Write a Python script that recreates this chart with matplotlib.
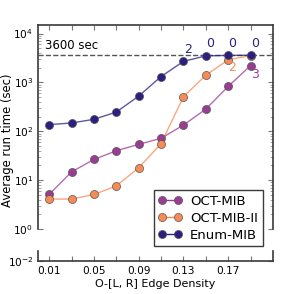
import matplotlib
matplotlib.use("Agg")
import matplotlib.pyplot as plt
from matplotlib.ticker import LogLocator, NullFormatter

# edge density on the x axis
density = [0.01, 0.03, 0.05, 0.07, 0.09, 0.11, 0.13, 0.15, 0.17, 0.19]
tick_labels = ["0.01", "", "0.05", "", "0.09", "", "0.13", "", "0.17", ""]

# average run time (sec)
oct_mib = [5.1, 14.8, 26.5, 40, 54, 72, 134, 285, 830, 2220]
oct_mib_ii = [4.1, 4.1, 5.1, 7.6, 18, 56, 510, 1410, 2900, 3550]
enum_mib = [137, 148, 176, 248, 525, 1320, 2700, 3500, 3580, 3600]

# number of timeouts shown next to the points
enum_notes = [(0.13, 2700, "2"), (0.15, 3500, "0"), (0.17, 3580, "0"), (0.19, 3600, "0")]
oct_ii_notes = [(0.17, 2900, "2")]
oct_notes = [(0.19, 2220, "3")]

c_oct = "#9b3c93"
c_oct2 = "#f88a55"
c_enum = "#2b1f82"
spine_c = "#3a3a3a"

fig = plt.figure(figsize=(2.99, 2.94), dpi=100)
ax = fig.add_axes([0.127, 0.221, 0.786, 0.694])
ax2 = fig.add_axes([0.127, 0.112, 0.786, 0.034])

series = [(oct_mib, c_oct, "OCT-MIB"),
          (oct_mib_ii, c_oct2, "OCT-MIB-II"),
          (enum_mib, c_enum, "Enum-MIB")]
for vals, col, lab in series:
    ax.plot(density, vals, "-", color=col, lw=1, alpha=0.75, zorder=2)
    ax.plot(density, vals, "o", color=col, ms=5.8, mec="#555555", mew=0.5, zorder=3)
    ax2.plot([], [], "-o", color=col, lw=1, ms=5.8, mec="#555555", mew=0.5, label=lab)

ax.axhline(3600, color="#555555", ls="--", lw=1, zorder=1)
ax.text(0.006, 4200, "3600 sec", fontsize=8.5, va="bottom", ha="left")

for x, y, t in enum_notes:
    ax.annotate(t, (x, y), xytext=(3, 4), textcoords="offset points",
                color=c_enum, fontsize=9, ha="center", va="bottom")
for x, y, t in oct_ii_notes:
    ax.annotate(t, (x, y), xytext=(3, -1), textcoords="offset points",
                color=c_oct2, fontsize=9, ha="center", va="top")
for x, y, t in oct_notes:
    ax.annotate(t, (x, y), xytext=(3, -2), textcoords="offset points",
                color=c_oct, fontsize=9, ha="center", va="top")

ax.set_yscale("log")
ax.set_ylim(1, 15000)
ax.set_xlim(0, 0.21)
ax2.set_yscale("log")
ax2.set_ylim(0.01, 0.03)
ax2.set_xlim(0, 0.21)
ax2.set_yticks([0.01])
ax2.yaxis.set_minor_formatter(NullFormatter())
ax2.yaxis.set_minor_locator(LogLocator(subs=[]))

for a in (ax, ax2):
    a.set_xticks(density)
    for s in a.spines.values():
        s.set_color(spine_c)
        s.set_linewidth(1.2)
    a.tick_params(direction="in", which="both", labelsize=7.6, colors="#777777",
                  labelcolor="black", right=True, top=True)
    a.tick_params(which="minor", width=0.6, length=2.5, colors="#999999")

ax.spines["bottom"].set_visible(False)
ax.tick_params(bottom=False, labelbottom=False, which="both")
ax2.spines["top"].set_visible(False)
ax2.tick_params(top=False, which="both")
ax2.set_xticklabels(tick_labels)

ax2.set_xlabel("O-[L, R] Edge Density", fontsize=8, labelpad=2)
fig.text(0.026, 0.524, "Average run time (sec)", rotation=90, fontsize=8.4,
         va="center", ha="center")

leg = fig.legend(loc="lower right", bbox_to_anchor=(0.9, 0.14), numpoints=2,
                 fontsize=9.5, fancybox=False, framealpha=1,
                 borderpad=0.35, labelspacing=0.3, handlelength=1.8, handletextpad=0.6)
leg.get_frame().set_edgecolor(spine_c)
leg.get_frame().set_linewidth(1)

fig.savefig("out.png", dpi=100)
